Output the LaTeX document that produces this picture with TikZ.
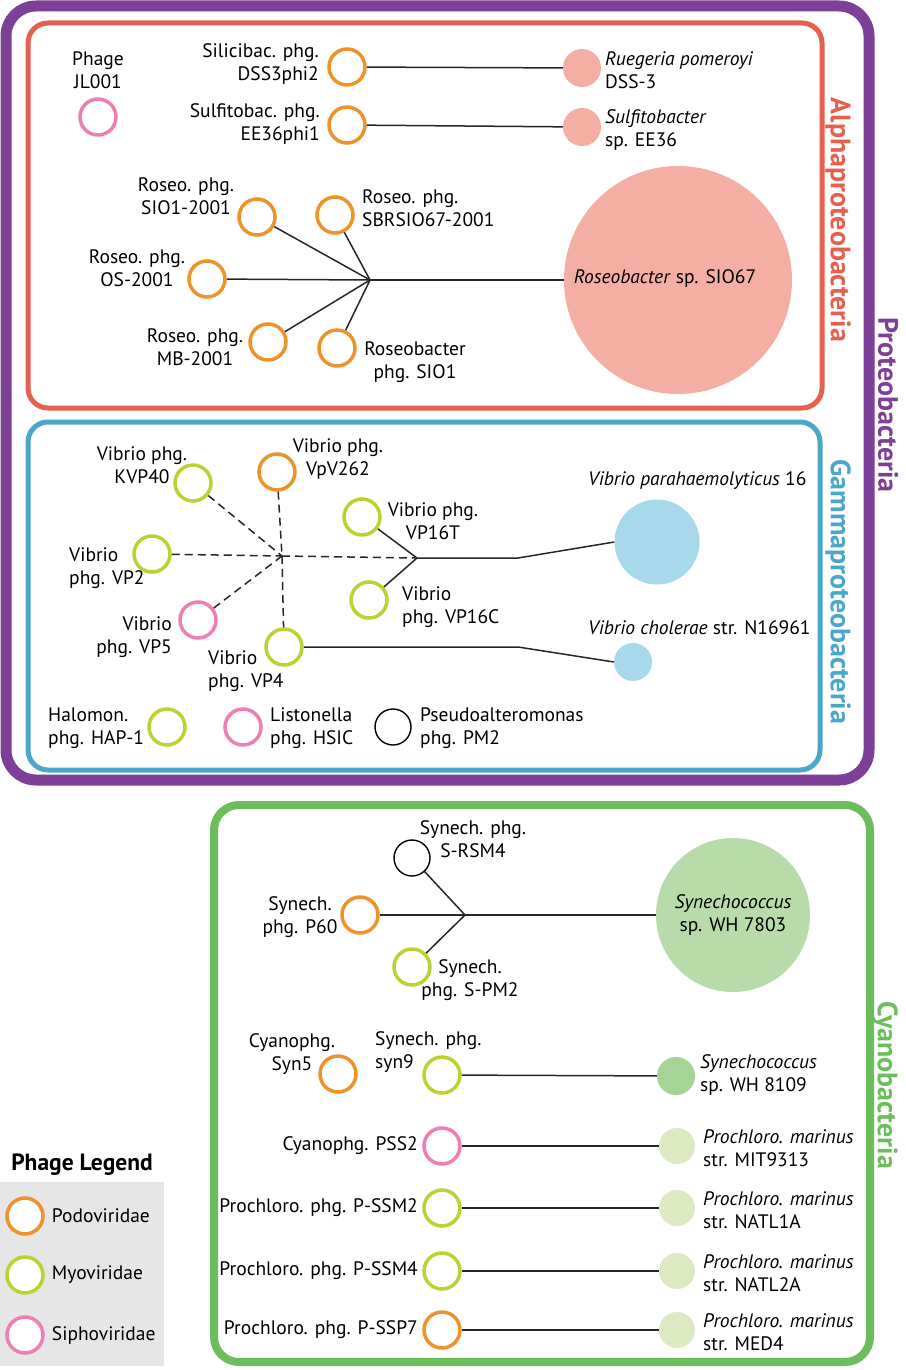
\documentclass[tikz,border=0pt]{standalone}
\usepackage{fontspec}
\setmainfont{PT Sans}
\usepackage{xcolor}
\usepackage{tikz}
\usetikzlibrary{positioning}

\definecolor{proteoc}{HTML}{7E3F98}
\definecolor{alphac}{HTML}{E5604D}
\definecolor{gammac}{HTML}{4AA7C9}
\definecolor{cyanoc}{HTML}{6BBE5B}
\definecolor{podoc}{HTML}{F0922B}
\definecolor{myoc}{HTML}{B8D432}
\definecolor{siphoc}{HTML}{EE7EB4}
\definecolor{alphafill}{HTML}{F4AEA3}
\definecolor{gammafill}{HTML}{A8D8EB}
\definecolor{synfill}{HTML}{B7DCA9}
\definecolor{syndark}{HTML}{A6D497}
\definecolor{prochfill}{HTML}{DDE9C0}
\definecolor{legendbg}{HTML}{E6E6E6}

\begin{document}
\begin{tikzpicture}[
    x=1pt, y=-1pt,
    phage/.style={circle, minimum size=36pt, inner sep=0pt, line width=3.5pt, fill=white},
    podo/.style={phage, draw=podoc},
    myo/.style={phage, draw=myoc},
    sipho/.style={phage, draw=siphoc},
    unkn/.style={phage, draw=black, line width=1.4pt},
    host/.style={circle, inner sep=0pt, minimum size=#1},
    host/.default=38pt,
    lbl/.style={font=\fontsize{19.5}{23.5}\selectfont, inner sep=0pt},
    link/.style={line width=1.5pt, black!85},
    dlink/.style={link, dash pattern=on 8pt off 5pt},
    grp/.style={rounded corners=20pt},
    grplbl/.style={font=\fontsize{28}{30}\selectfont\bfseries, rotate=-90, inner sep=0pt}
]
    \useasboundingbox (0,0) rectangle (905,1370);

    % Group frames
    \draw[grp, proteoc, line width=11pt, rounded corners=30pt] (6,6) rectangle (869,780);
    \draw[grp, alphac, line width=5pt] (28,23) rectangle (822,408);
    \draw[grp, gammac, line width=5pt] (28,422) rectangle (820,770);
    \draw[grp, cyanoc, line width=8pt, rounded corners=25pt] (214,805) rectangle (870,1362);

    \node[grplbl, text=proteoc] (proteo-l) at (888,405) {Proteobacteria};
    \node[grplbl, text=alphac] (alpha-l) at (838,220) {Alphaproteobacteria};
    \node[grplbl, text=gammac] (gamma-l) at (838,592) {Gammaproteobacteria};
    \node[grplbl, text=cyanoc] (cyano-l) at (885,1085) {Cyanobacteria};

    % Alphaproteobacteria
    \node[sipho] (jl001) at (98,117) {};
    \node[lbl, align=center] (jl001-l) at (98,70) {Phage\\JL001};

    \node[podo] (dss3phi2) at (347,67) {};
    \node[lbl, align=right, anchor=east] (dss3phi2-l) at (319,64) {Silicibac. phg.\\DSS3phi2};
    \node[host, fill=alphafill] (ruegeria) at (582,68) {};
    \node[lbl, align=left, anchor=west] (ruegeria-l) at (605,70) {\textit{Ruegeria pomeroyi}\\DSS-3};

    \node[podo] (ee36phi1) at (347,125) {};
    \node[lbl, align=right, anchor=east] (ee36phi1-l) at (320,124) {Sulfitobac. phg.\\EE36phi1};
    \node[host, fill=alphafill] (sulfito) at (582,127) {};
    \node[lbl, align=left, anchor=west] (sulfito-l) at (605,130) {\textit{Sulfitobacter}\\sp. EE36};

    \node[podo] (sio1-2001) at (257,217) {};
    \node[lbl, align=center] (sio1-2001-l) at (186,196) {Roseo. phg.\\SIO1-2001};
    \node[podo] (sbrsio67) at (335,215) {};
    \node[lbl, align=left, anchor=west] (sbrsio67-l) at (362,208) {Roseo. phg.\\SBRSIO67-2001};
    \node[podo] (os2001) at (207,279) {};
    \node[lbl, align=center] (os2001-l) at (137,268) {Roseo. phg.\\OS-2001};
    \node[podo] (mb2001) at (268,342) {};
    \node[lbl, align=center] (mb2001-l) at (195,347) {Roseo. phg.\\MB-2001};
    \node[podo] (sio1) at (337,348) {};
    \node[lbl, align=center] (sio1-l) at (415,362) {Roseobacter\\phg. SIO1};

    \coordinate (jrose) at (370,280);
    \node[host=228pt, fill=alphafill] (roseo) at (678,280) {};
    \node[lbl] (roseo-l) at (665,279) {\textit{Roseobacter} sp. SIO67};

    \draw[link] (dss3phi2) -- (ruegeria);
    \draw[link] (ee36phi1) -- (sulfito);
    \draw[link] (sio1-2001) -- (jrose);
    \draw[link] (sbrsio67) -- (jrose);
    \draw[link] (os2001) -- (jrose);
    \draw[link] (mb2001) -- (jrose);
    \draw[link] (sio1) -- (jrose);
    \draw[link] (jrose) -- (roseo);

    % Gammaproteobacteria
    \node[myo] (kvp40) at (193,483) {};
    \node[lbl, align=center] (kvp40-l) at (142,465) {Vibrio phg.\\KVP40};
    \node[podo] (vpv262) at (277,472) {};
    \node[lbl, align=center] (vpv262-l) at (338,459) {Vibrio phg.\\VpV262};
    \node[myo] (vp16t) at (362,517) {};
    \node[lbl, align=center] (vp16t-l) at (433,521) {Vibrio phg.\\VP16T};
    \node[myo] (vp2) at (152,554) {};
    \node[lbl, align=left, anchor=west] (vp2-l) at (69,568) {Vibrio\\phg. VP2};
    \node[sipho] (vp5) at (198,620) {};
    \node[lbl, align=right, anchor=east] (vp5-l) at (172,637) {Vibrio\\phg. VP5};
    \node[myo] (vp4) at (284,647) {};
    \node[lbl, align=left, anchor=west] (vp4-l) at (208,671) {Vibrio\\phg. VP4};
    \node[myo] (vp16c) at (369,600) {};
    \node[lbl, align=left, anchor=west] (vp16c-l) at (402,607) {Vibrio\\phg. VP16C};

    \coordinate (jvib) at (282,556);
    \coordinate (jvp16) at (417,558);
    \coordinate (bend1) at (518,558);
    \coordinate (bend2) at (518,647);

    \node[host=85pt, fill=gammafill] (vpara) at (657,542) {};
    \node[lbl, anchor=west] (vpara-l) at (588,481) {\textit{Vibrio parahaemolyticus} 16};
    \node[host, fill=gammafill] (vchol) at (633,662) {};
    \node[lbl, anchor=west] (vchol-l) at (588,628) {\textit{Vibrio cholerae} str. N16961};

    \draw[dlink] (kvp40) -- (jvib);
    \draw[dlink] (vpv262) -- (jvib);
    \draw[dlink] (jvib) -- (vp4);
    \draw[dlink] (vp2) -- (jvib);
    \draw[dlink] (vp5) -- (jvib);
    \draw[dlink] (jvib) -- (jvp16);
    \draw[link] (vp16t) -- (jvp16);
    \draw[link] (vp16c) -- (jvp16);
    \draw[link] (jvp16) -- (bend1) -- (vpara.west);
    \draw[link] (vp4) -- (bend2) -- (vchol.west);

    \node[myo] (hap1) at (167,727) {};
    \node[lbl, align=left, anchor=west] (hap1-l) at (48,728) {Halomon.\\phg. HAP-1};
    \node[sipho] (hsic) at (243,727) {};
    \node[lbl, align=left, anchor=west] (hsic-l) at (270,728) {Listonella\\phg. HSIC};
    \node[unkn] (pm2) at (393,727) {};
    \node[lbl, align=left, anchor=west] (pm2-l) at (420,728) {Pseudoalteromonas\\phg. PM2};

    % Cyanobacteria
    \node[unkn] (srsm4) at (412,858) {};
    \node[lbl, align=center] (srsm4-l) at (473,839) {Synech. phg.\\S-RSM4};
    \node[podo] (p60) at (360,915) {};
    \node[lbl, align=center] (p60-l) at (300,917) {Synech.\\phg. P60};
    \node[myo] (spm2) at (412,967) {};
    \node[lbl, align=center] (spm2-l) at (470,980) {Synech.\\phg. S-PM2};

    \coordinate (jsyn) at (465,915);
    \node[host=154pt, fill=synfill, lbl, align=center] (wh7803) at (733,915) {\textit{Synechococcus}\\sp. WH 7803};

    \draw[link] (srsm4) -- (jsyn);
    \draw[link] (p60) -- (jsyn);
    \draw[link] (spm2) -- (jsyn);
    \draw[link] (jsyn) -- (wh7803);

    \node[podo] (syn5) at (338,1074) {};
    \node[lbl, align=center] (syn5-l) at (292,1054) {Cyanophg.\\Syn5};
    \node[myo] (syn9) at (442,1075) {};
    \node[lbl, align=left, anchor=west] (syn9-l) at (375,1052) {Synech. phg.\\syn9};
    \node[host, fill=syndark] (wh8109) at (676,1076) {};
    \node[lbl, align=left, anchor=west] (wh8109-l) at (700,1075) {\textit{Synechococcus}\\sp. WH 8109};
    \draw[link] (syn9) -- (wh8109);

    \foreach \y/\nm/\typ/\phg/\str in {1146/pss2/sipho/Cyanophg. PSS2/MIT9313,
        1208/pssm2/myo/Prochloro. phg. P-SSM2/NATL1A,
        1271/pssm4/myo/Prochloro. phg. P-SSM4/NATL2A,
        1330/pssp7/podo/Prochloro. phg. P-SSP7/MED4} {
        \node[\typ] (\nm) at (442,\y) {};
        \node[lbl, anchor=east] (\nm-l) at (418,\y) {\phg};
        \node[host=36pt, fill=prochfill] (h\nm) at (677,\y) {};
        \node[lbl, align=left, anchor=west] (h\nm-l) at (703,\y+2) {\textit{Prochloro. marinus}\\str. \str};
        \draw[link] (\nm) -- (h\nm);
    }

    % Phage legend
    \node[font=\fontsize{23.5}{26}\selectfont\bfseries, inner sep=0pt] (legend-t) at (82,1165) {Phage Legend};
    \fill[legendbg] (0,1182) rectangle (164,1366);
    \foreach \y/\typ/\fam in {1216/podo/Podoviridae, 1275/myo/Myoviridae, 1335/sipho/Siphoviridae} {
        \node[\typ] (l\typ) at (25,\y) {};
        \node[lbl, right=7pt of l\typ] (l\typ-l) {\fam};
    }
\end{tikzpicture}
\end{document}
